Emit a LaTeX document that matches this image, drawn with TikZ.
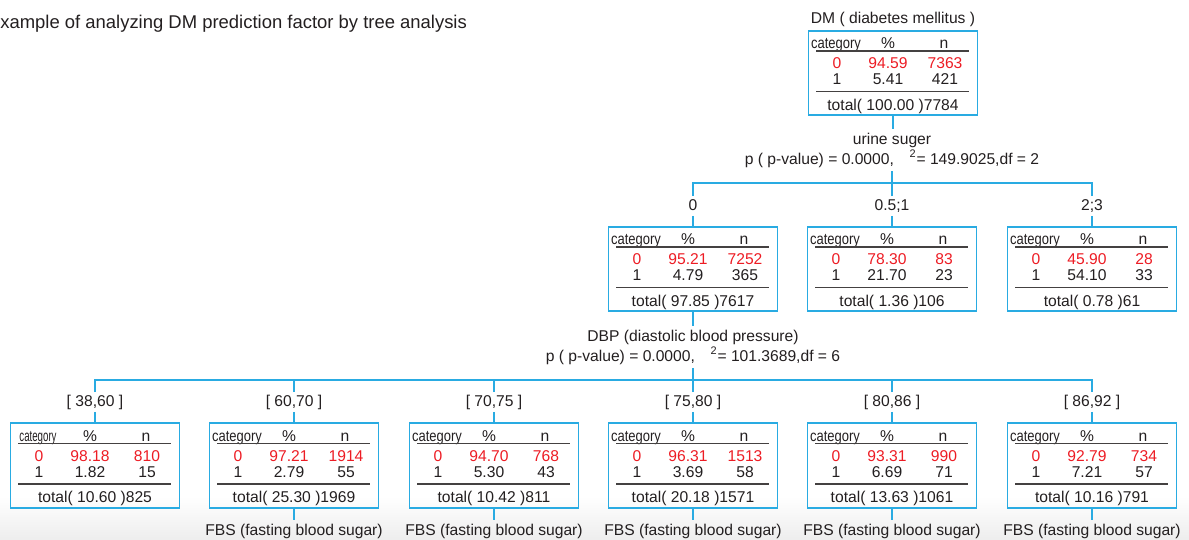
\documentclass[tikz,border=0pt]{standalone}
\usepackage{fontspec}
\setmainfont{Liberation Sans}
\definecolor{linkblue}{RGB}{41,171,226}
\definecolor{valred}{RGB}{237,28,36}
\definecolor{txt}{RGB}{35,31,32}
\tikzset{
  catbox/.style={draw=linkblue, line width=1.1pt, minimum width=3.38cm, minimum height=1.69cm, inner sep=0pt},
  cell/.style={inner sep=0pt, text height=6.4pt, text depth=0pt, text=txt},
  hot/.style={cell, text=valred},
  rule/.style={draw=txt!85, line width=0.8pt},
  link/.style={draw=linkblue, line width=1.1pt},
  split/.style={align=center, inner sep=2pt, text=txt, font=\fontsize{8.9}{11.4}\selectfont},
  branch/.style={inner sep=1.5pt, text height=6.4pt, text depth=1.5pt, text=txt}
}
\newcommand{\catw}{.83}
% #1 name, #2/#3 centre, #4-#7 rows 0 and 1, #8/#9 total
\newcommand{\statbox}[9]{%
  \node[catbox] (#1) at (#2,#3) {};
  \begin{scope}[shift={(#2,#3)}]
    \node[cell] (#1-cat) at (-57,-30) {\scalebox{\catw}[1]{category}};
    \node[cell] (#1-pct) at (-5,-30) {\%};
    \node[cell] (#1-n) at (51,-30) {n};
    \draw[rule] (-77,-22) -- (76,-22);
    \node[hot] (#1-z) at (-56,-10) {0};
    \node[hot] (#1-zp) at (-5,-10) {#4};
    \node[hot] (#1-zn) at (52,-10) {#5};
    \node[cell] (#1-o) at (-56,6) {1};
    \node[cell] (#1-op) at (-5,6) {#6};
    \node[cell] (#1-on) at (52,6) {#7};
    \draw[rule] (-77,18.5) -- (76,18.5);
    \node[cell] (#1-tot) at (0,31.5) {total( #8 )#9};
  \end{scope}}

\begin{document}
\begin{tikzpicture}[x=0.02cm, y=-0.02cm, font=\fontsize{8.9}{10.5}\selectfont, text=txt]
\useasboundingbox (0,0) rectangle (1189,540);
\shade[top color=white, bottom color=black!7] (0,496) rectangle (1189,540);

\node[anchor=base west, inner sep=0pt, font=\fontsize{10.5}{12}\selectfont] (sub) at (0,29) {xample of analyzing DM prediction factor by tree analysis};

% Wurzel
\node (dmtitle) at (893,19) {DM ( diabetes mellitus )};
\statbox{dm}{893}{73}{94.59}{7363}{5.41}{421}{100.00}{7784}
\node[split] (urine) at (892,150) {urine suger\\p ( p-value) = 0.0000,\hspace{1em}\textsuperscript{2}= 149.9025,df = 2};
\coordinate (ubar) at (892,183);
\draw[link] (dm.south) -- (dm.south |- urine.north);
\draw[link] (urine.south) -- (ubar);

% Ebene 2
\node[branch] (u0) at (693,206) {0};
\node[branch] (u1) at (892,206) {0.5;1};
\node[branch] (u2) at (1092,206) {2;3};
\statbox{ua}{693}{269}{95.21}{7252}{4.79}{365}{97.85}{7617}
\statbox{ub}{892}{269}{78.30}{83}{21.70}{23}{1.36}{106}
\statbox{uc}{1092}{269}{45.90}{28}{54.10}{33}{0.78}{61}
\draw[link] (u0.north) |- (ubar) -| (u2.north);
\draw[link] (u1.north) -- (u1.north |- ubar);
\foreach \l/\b in {u0/ua,u1/ub,u2/uc}
  \draw[link] (\l.south) -- (\b.north);

\node[split] (dbp) at (693,347) {DBP (diastolic blood pressure)\\p ( p-value) = 0.0000,\hspace{1em}\textsuperscript{2}= 101.3689,df = 6};
\coordinate (dbar) at (693,380);
\draw[link] (ua.south) -- (dbp.north);
\draw[link] (dbp.south) -- (dbar);

% Ebene 3
\foreach \i/\x/\r in {1/95/{[ 38,60 ]},2/294/{[ 60,70 ]},3/494/{[ 70,75 ]},4/693/{[ 75,80 ]},5/892/{[ 80,86 ]},6/1092/{[ 86,92 ]}}
  \node[branch] (d\i) at (\x,402) {\r};
\renewcommand{\catw}{.62}
\statbox{b1}{95}{465.5}{98.18}{810}{1.82}{15}{10.60}{825}
\renewcommand{\catw}{.83}
\statbox{b2}{294}{465.5}{97.21}{1914}{2.79}{55}{25.30}{1969}
\statbox{b3}{494}{465.5}{94.70}{768}{5.30}{43}{10.42}{811}
\statbox{b4}{693}{465.5}{96.31}{1513}{3.69}{58}{20.18}{1571}
\statbox{b5}{892}{465.5}{93.31}{990}{6.69}{71}{13.63}{1061}
\statbox{b6}{1092}{465.5}{92.79}{734}{7.21}{57}{10.16}{791}
\draw[link] (d1.north) |- (dbar) -| (d6.north);
\foreach \i in {2,...,5}
  \draw[link] (d\i.north) -- (d\i.north |- dbar);
\foreach \i in {1,...,6}
  \draw[link] (d\i.south) -- (b\i.north);

% FBS darunter
\foreach \i/\x in {2/294,3/494,4/693,5/892,6/1092}{
  \node[inner sep=2pt] (f\i) at (\x,531) {FBS (fasting blood sugar)};
  \draw[link] (b\i.south) -- (f\i.north);
}
\end{tikzpicture}
\end{document}
